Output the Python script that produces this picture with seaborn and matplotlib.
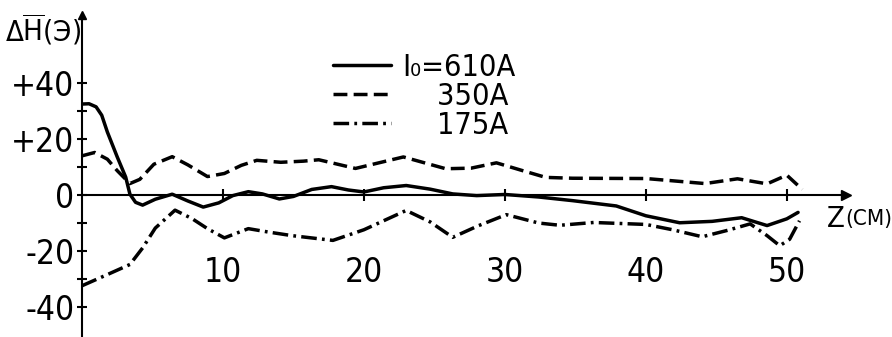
import numpy as np
import pandas as pd
import matplotlib.pyplot as plt
import seaborn as sns

# Valores (z en cm, ΔH en Э)
z_610 = [0, 0.5, 1.0, 1.4, 1.8, 2.5, 3.1, 3.4, 3.8, 4.3, 5.2, 6.4, 7.5, 8.6, 9.7, 10.7, 11.8,
         12.8, 14.0, 15.0, 16.3, 17.7, 18.9, 20.0, 21.4, 23.0, 24.7, 26.3, 28.0, 30.0,
         32.4, 34.8, 37.9, 40.0, 42.4, 44.7, 46.8, 48.6, 50.0, 50.8]
h_610 = [32.5, 32.6, 31.5, 28.5, 22.5, 13.6, 6.4, 0.3, -2.6, -3.6, -1.5, 0.3, -2.1, -4.3, -2.8,
         -0.2, 1.2, 0.4, -1.4, -0.5, 2.0, 3.0, 1.8, 1.1, 2.6, 3.4, 2.1, 0.4, -0.2, 0.2,
         -0.7, -2.0, -3.9, -7.4, -9.9, -9.4, -8.1, -10.9, -8.5, -6.2]

z_350 = [0, 0.9, 1.8, 2.5, 3.4, 4.1, 5.1, 6.4, 7.5, 8.9, 10.1, 11.3, 12.4, 14.1, 15.7,
         16.8, 19.4, 22.8, 25.8, 27.6, 29.4, 31.2, 32.9, 34.8, 40.0, 44.2, 46.5, 48.6,
         50.0, 51.1]
h_350 = [14, 15.2, 12.8, 8.7, 4.1, 5.6, 11, 13.7, 10.8, 6.6, 7.7, 10.6, 12.4, 11.7, 12.1,
         12.6, 9.5, 13.6, 9.4, 9.6, 11.5, 8.8, 6.3, 6.0, 5.9, 4.1, 5.8, 4.0,
         7.1, 2.0]

z_175 = [0, 1.8, 3.4, 4.3, 5.2, 6.6, 7.8, 8.9, 10.1, 11.8, 13.2, 14.9, 17.8, 20.0, 23.0,
         24.7, 26.3, 28.1, 30.1, 32.4, 33.9, 36.3, 40.0, 41.9, 44.0, 45.8, 47.4, 48.6,
         49.5, 50.2, 50.9]
h_175 = [-32.4, -28.4, -24.8, -18.9, -11.8, -5.4, -8.4, -12, -15.3, -12, -13.2, -14.5, -16.2,
         -12.4, -5.5, -9.6, -15.1, -11, -7, -10, -10.8, -9.8, -10.5, -12.4, -14.9, -12.6,
         -10.3, -14.5, -18.1, -15.8, -9.2]

series = ["I₀=610A", "\u2007\u2007350A", "\u2007\u2007175A"]

df = pd.concat([
    pd.DataFrame({"z": z_610, "H": h_610, "serie": series[0]}),
    pd.DataFrame({"z": z_350, "H": h_350, "serie": series[1]}),
    pd.DataFrame({"z": z_175, "H": h_175, "serie": series[2]}),
])

sns.set_style("white")
plt.rcParams["font.family"] = ["DejaVu Sans"]
plt.rcParams["font.stretch"] = "condensed"
plt.rcParams["text.color"] = "black"
plt.rcParams["xtick.color"] = "black"
plt.rcParams["ytick.color"] = "black"

fig = plt.figure(figsize=(8.92, 3.37), dpi=100)
ax = fig.add_axes([82 / 892, 0, 764 / 892, 322 / 337])

estilos = {series[0]: "", series[1]: (4, 1.8), series[2]: (4.5, 1.5, 0.8, 1.5)}
sns.lineplot(data=df, x="z", y="H", style="serie", dashes=estilos, color="black",
             linewidth=2.5, estimator=None, sort=False, ax=ax)

ax.set_xlim(0, 54.2)
ax.set_ylim(-50.7, 64.3)

# ejes en cruz
for s in ["top", "right"]:
    ax.spines[s].set_visible(False)
ax.spines["bottom"].set_position(("data", 0))
for s in ["bottom", "left"]:
    ax.spines[s].set_linewidth(1.5)
    ax.spines[s].set_color("black")
ax.plot(1, 0, ">", color="black", markersize=7, transform=ax.get_yaxis_transform(), clip_on=False)
ax.plot(0, 1, "^", color="black", markersize=6, transform=ax.get_xaxis_transform(), clip_on=False)

ax.set_xticks([10, 20, 30, 40, 50])
ax.set_yticks([-40, -20, 0, 20, 40])
ax.set_yticklabels(["-40", "-20", "0", "+20", "+40"])
ax.set_yticks([-30, -10, 10, 30], minor=True)
ax.tick_params(axis="y", which="both", direction="inout", length=7, width=1.5,
               labelsize=24, pad=2, left=True)
ax.tick_params(axis="x", direction="inout", length=8, width=1.5, labelsize=24,
               pad=40, bottom=True)
ax.set_xlabel("")
ax.set_ylabel("")

ax.legend(frameon=False, fontsize=22, handlelength=1.9, handletextpad=0.35,
          labelspacing=0.0, loc="upper left", bbox_to_anchor=(0.293, 0.967))

fig.text(5 / 892, 1 - 30 / 337, "Δ$\\overline{\\mathrm{H}}$(Э)", fontsize=21, va="center")
fig.text(827 / 892, 1 - 219 / 337, "Z", fontsize=21, va="center")
fig.text(845 / 892, 1 - 219 / 337, "(СМ)", fontsize=16, va="center")

fig.savefig("out.png", dpi=100)
